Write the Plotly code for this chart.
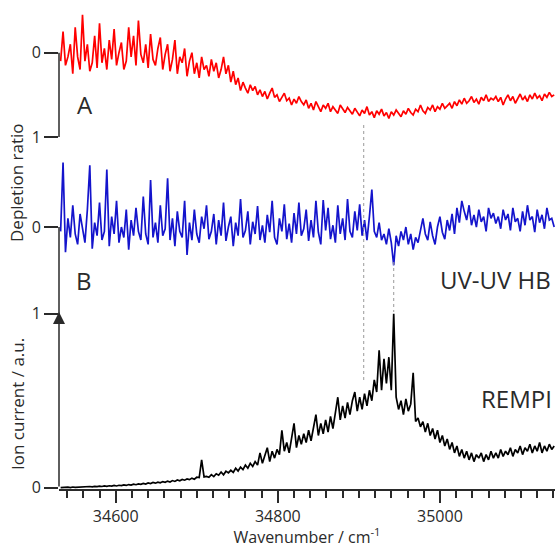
import plotly.graph_objects as go

# ---------------- data ----------------
WN_START = 34532
WN_STEP = 3

# Trace A: depletion ratio (0 = top, 1 = bottom)
depletion_a = [
    0.10, -0.25, 0.15, 0.05, -0.10, 0.25, -0.30, 0.05, 0.20, -0.45, 0.10, -0.10, 0.22, 0.12, -0.20, 0.18, -0.35, 0.12, -0.05, 0.20,
    -0.15, 0.08, -0.28, 0.15, 0.00, -0.12, 0.20, 0.10, -0.30, 0.05, -0.20, 0.15, -0.38, 0.02, 0.12, -0.10, 0.18, -0.22, 0.08, 0.15,
    -0.05, -0.18, 0.20, 0.02, -0.10, 0.22, 0.08, -0.15, 0.25, 0.05, 0.12, -0.05, 0.28, 0.10, 0.00, 0.25, 0.12, 0.30, 0.05, 0.20,
    0.15, 0.28, 0.08, 0.22, 0.12, 0.30, 0.20, 0.05, 0.25, 0.15, 0.35, 0.22, 0.38, 0.30, 0.45, 0.35, 0.42, 0.48, 0.38, 0.45,
    0.40, 0.50, 0.44, 0.52, 0.46, 0.55, 0.48, 0.42, 0.53, 0.50, 0.58, 0.52, 0.48, 0.57, 0.54, 0.62, 0.55, 0.60, 0.52, 0.58,
    0.62, 0.56, 0.66, 0.60, 0.68, 0.58, 0.64, 0.70, 0.62, 0.66, 0.60, 0.70, 0.64, 0.68, 0.72, 0.62, 0.67, 0.71, 0.65, 0.69,
    0.73, 0.66, 0.70, 0.75, 0.68, 0.72, 0.64, 0.74, 0.70, 0.77, 0.69, 0.73, 0.67, 0.75, 0.71, 0.78, 0.70, 0.74, 0.68, 0.72,
    0.76, 0.69, 0.73, 0.66, 0.71, 0.74, 0.67, 0.70, 0.62, 0.69, 0.72, 0.65, 0.68, 0.62, 0.70, 0.64, 0.67, 0.60, 0.66, 0.63,
    0.60, 0.66, 0.58, 0.63, 0.56, 0.61, 0.54, 0.60, 0.57, 0.52, 0.59, 0.55, 0.61, 0.53, 0.57, 0.50, 0.58, 0.54, 0.56, 0.52,
    0.58, 0.53, 0.62, 0.55, 0.50, 0.57, 0.52, 0.60, 0.54, 0.49, 0.56, 0.52, 0.58, 0.50, 0.55, 0.48, 0.54, 0.51, 0.57, 0.49,
    0.53, 0.47, 0.52, 0.50,
]

# Trace B: depletion ratio (0 = top, 1 = bottom)
depletion_b = [
    0.05, -0.74, 0.29, -0.10, 0.12, -0.25, 0.08, 0.20, -0.15, 0.02, 0.18, -0.20, -0.71, 0.25, -0.05, 0.10, -0.28, 0.15, 0.05, -0.66,
    0.22, -0.12, 0.08, -0.30, 0.18, 0.00, 0.12, -0.20, 0.26, -0.08, 0.10, -0.22, 0.05, 0.15, -0.35, 0.08, 0.20, -0.54, 0.12, -0.05,
    0.18, -0.25, 0.10, 0.02, -0.56, 0.15, -0.10, 0.22, -0.18, 0.05, 0.12, -0.30, 0.32, -0.05, 0.15, -0.20, 0.08, 0.18, -0.12, 0.02,
    -0.25, 0.14, 0.05, -0.15, 0.20, -0.08, 0.10, -0.28, 0.16, 0.00, -0.12, 0.22, -0.05, 0.10, -0.32, 0.12, 0.04, -0.18, 0.20, -0.06,
    0.08, -0.24, 0.15, -0.02, 0.18, -0.14, 0.06, -0.30, 0.12, 0.20, -0.10, 0.05, -0.26, 0.14, -0.04, 0.18, -0.16, 0.08, -0.28, 0.10,
    0.02, -0.20, 0.16, -0.08, 0.12, -0.30, 0.06, 0.20, -0.31, 0.04, -0.22, 0.14, -0.02, 0.18, -0.25, 0.08, -0.10, 0.15, -0.32, 0.05,
    0.12, -0.18, 0.04, -0.26, 0.10, -0.08, 0.15, -0.12, -0.43, 0.05, 0.12, -0.05, 0.15, 0.08, 0.20, 0.02, 0.18, 0.44, 0.10, 0.22,
    0.05, 0.15, 0.00, 0.20, 0.08, 0.26, 0.12, 0.18, 0.02, -0.10, 0.08, 0.15, -0.06, 0.10, 0.20, 0.00, -0.12, 0.06, 0.14, -0.08,
    0.04, -0.15, 0.08, -0.22, -0.05, -0.30, -0.18, -0.08, -0.25, -0.02, -0.14, 0.00, -0.20, -0.06, -0.12, 0.05, -0.22, -0.10, -0.16, -0.04,
    -0.12, 0.02, -0.20, -0.08, -0.15, 0.04, -0.22, -0.06, -0.10, 0.05, -0.18, -0.02, -0.25, -0.08, -0.12, 0.06, -0.20, -0.05, -0.14, 0.02,
    -0.22, -0.08, -0.10, 0.00,
]

# REMPI ion current (a.u.)
rempi = [
    0.000, 0.002, 0.000, 0.003, 0.001, 0.004, 0.002, 0.003, 0.005, 0.003, 0.006, 0.004, 0.007, 0.005, 0.008, 0.006, 0.009, 0.007, 0.010, 0.008,
    0.011, 0.009, 0.013, 0.010, 0.014, 0.012, 0.016, 0.013, 0.018, 0.015, 0.020, 0.017, 0.022, 0.019, 0.025, 0.021, 0.027, 0.024, 0.030, 0.026,
    0.032, 0.028, 0.035, 0.031, 0.038, 0.033, 0.041, 0.036, 0.044, 0.040, 0.047, 0.043, 0.050, 0.046, 0.055, 0.049, 0.060, 0.058, 0.160, 0.062,
    0.065, 0.060, 0.075, 0.064, 0.080, 0.072, 0.090, 0.074, 0.095, 0.085, 0.100, 0.088, 0.112, 0.096, 0.118, 0.104, 0.130, 0.112, 0.140, 0.122,
    0.15, 0.13, 0.20, 0.14, 0.18, 0.23, 0.15, 0.21, 0.17, 0.22, 0.19, 0.33, 0.21, 0.26, 0.20, 0.28, 0.37, 0.23, 0.30, 0.25,
    0.31, 0.26, 0.33, 0.27, 0.35, 0.42, 0.30, 0.37, 0.31, 0.39, 0.32, 0.41, 0.34, 0.44, 0.52, 0.39, 0.47, 0.40, 0.49, 0.42,
    0.50, 0.55, 0.44, 0.52, 0.45, 0.54, 0.47, 0.56, 0.50, 0.62, 0.55, 0.79, 0.56, 0.74, 0.60, 0.75, 0.56, 1.00, 0.52, 0.45,
    0.50, 0.42, 0.51, 0.44, 0.48, 0.66, 0.38, 0.40, 0.35, 0.38, 0.32, 0.37, 0.30, 0.34, 0.28, 0.33, 0.26, 0.30, 0.24, 0.28,
    0.22, 0.26, 0.20, 0.24, 0.18, 0.22, 0.17, 0.21, 0.16, 0.20, 0.15, 0.19, 0.17, 0.20, 0.15, 0.19, 0.16, 0.21, 0.17, 0.20,
    0.17, 0.22, 0.18, 0.21, 0.19, 0.23, 0.18, 0.22, 0.20, 0.24, 0.19, 0.23, 0.21, 0.25, 0.20, 0.24, 0.21, 0.26, 0.20, 0.24,
    0.21, 0.25, 0.22, 0.24,
]

marker_lines = [34906, 34943]  # dotted guide lines (cm-1)
x_range = [34530, 35142]
x_label = "Wavenumber / cm<sup>-1</sup>"
y_label_dep = "Depletion ratio"
y_label_ion = "Ion current / a.u."


def grid(n):
    return [WN_START + WN_STEP * i for i in range(n)]


FONT = "Open Sans, DejaVu Sans, sans-serif"
AX = "#2a2a2a"
TXT = "#2a2a2a"

W, H = 558, 548
ML, MR, MT, MB = 59, 3, 0, 59
PW, PH = W - ML - MR, H - MT - MB


def px(x):
    return (x - ML) / PW


def py(y):
    return (H - MB - y) / PH


fig = go.Figure()
fig.add_trace(go.Scatter(x=grid(len(rempi)), y=rempi, mode="lines",
                         line=dict(color="#000000", width=1.7), yaxis="y", showlegend=False))
fig.add_trace(go.Scatter(x=grid(len(depletion_a)), y=depletion_a, mode="lines",
                         line=dict(color="#ff0000", width=1.7), yaxis="y2", showlegend=False))
fig.add_trace(go.Scatter(x=grid(len(depletion_b)), y=depletion_b, mode="lines",
                         line=dict(color="#1414cc", width=1.7), yaxis="y3", showlegend=False))

common_y = dict(showgrid=False, zeroline=False, showline=False, ticks="outside", ticklen=14,
                tickwidth=1.5, tickcolor=AX, tickvals=[0, 1],
                tickfont=dict(family=FONT, size=16, color=TXT), anchor="x", side="left")

fig.update_layout(
    width=W, height=H,
    margin=dict(l=ML, r=MR, t=MT, b=MB),
    paper_bgcolor="white", plot_bgcolor="white",
    font=dict(family=FONT, size=16, color=TXT),
    xaxis=dict(range=x_range, showgrid=False, zeroline=False, showline=True,
               linecolor=AX, linewidth=1.5, ticks="outside", ticklen=12, tickwidth=1.5,
               tickcolor=AX, tick0=34600, dtick=200, tickformat="d",
               minor=dict(dtick=20, tick0=34600, ticks="outside", ticklen=7, tickwidth=1.5, tickcolor=AX),
               tickfont=dict(family=FONT, size=16, color=TXT),
               title=dict(text=x_label, font=dict(family=FONT, size=16, color=TXT), standoff=4)),
    yaxis=dict(range=[-0.0075, 2.803], ticktext=["0", "1"], **common_y),
    yaxis2=dict(range=[5.176, -0.625], ticktext=["0", "1"], overlaying="y", **common_y),
    yaxis3=dict(range=[3.011, -2.609], ticktext=["0", ""], overlaying="y", **common_y),
)

# axis spines for the depletion panels (0 -> 1 only)
for yr in ("y2", "y3"):
    fig.add_shape(type="line", xref="paper", yref=yr, x0=0, x1=0, y0=0, y1=1,
                  line=dict(color=AX, width=1.5))

# REMPI axis with arrow
fig.add_annotation(xref="paper", yref="y", x=0, y=1.01, ax=0, ay=176, axref="pixel", ayref="pixel",
                   showarrow=True, arrowhead=2, arrowsize=1.6, arrowwidth=1.5, arrowcolor=AX, text="")

# dotted guide lines
fig.add_shape(type="line", xref="x", yref="paper", x0=marker_lines[0], x1=marker_lines[0],
              y0=py(125), y1=py(380), line=dict(color="#999999", width=1, dash="dot"))
fig.add_shape(type="line", xref="x", yref="paper", x0=marker_lines[1], x1=marker_lines[1],
              y0=py(262), y1=py(312), line=dict(color="#999999", width=1, dash="dot"))

labels = [("A", 85, 104), ("B", 84, 280), ("UV-UV HB", 495, 279), ("REMPI", 516, 398)]
for t, x, y in labels:
    fig.add_annotation(xref="paper", yref="paper", x=px(x), y=py(y), text=t, showarrow=False,
                       xanchor="center", yanchor="middle", font=dict(family=FONT, size=24, color=TXT))

fig.add_annotation(xref="paper", yref="paper", x=px(17), y=py(183), text=y_label_dep, textangle=-90,
                   showarrow=False, xanchor="center", yanchor="middle", font=dict(family=FONT, size=17, color=TXT))
fig.add_annotation(xref="paper", yref="paper", x=px(17), y=py(404), text=y_label_ion, textangle=-90,
                   showarrow=False, xanchor="center", yanchor="middle", font=dict(family=FONT, size=17, color=TXT))

fig.write_html("out.html")
